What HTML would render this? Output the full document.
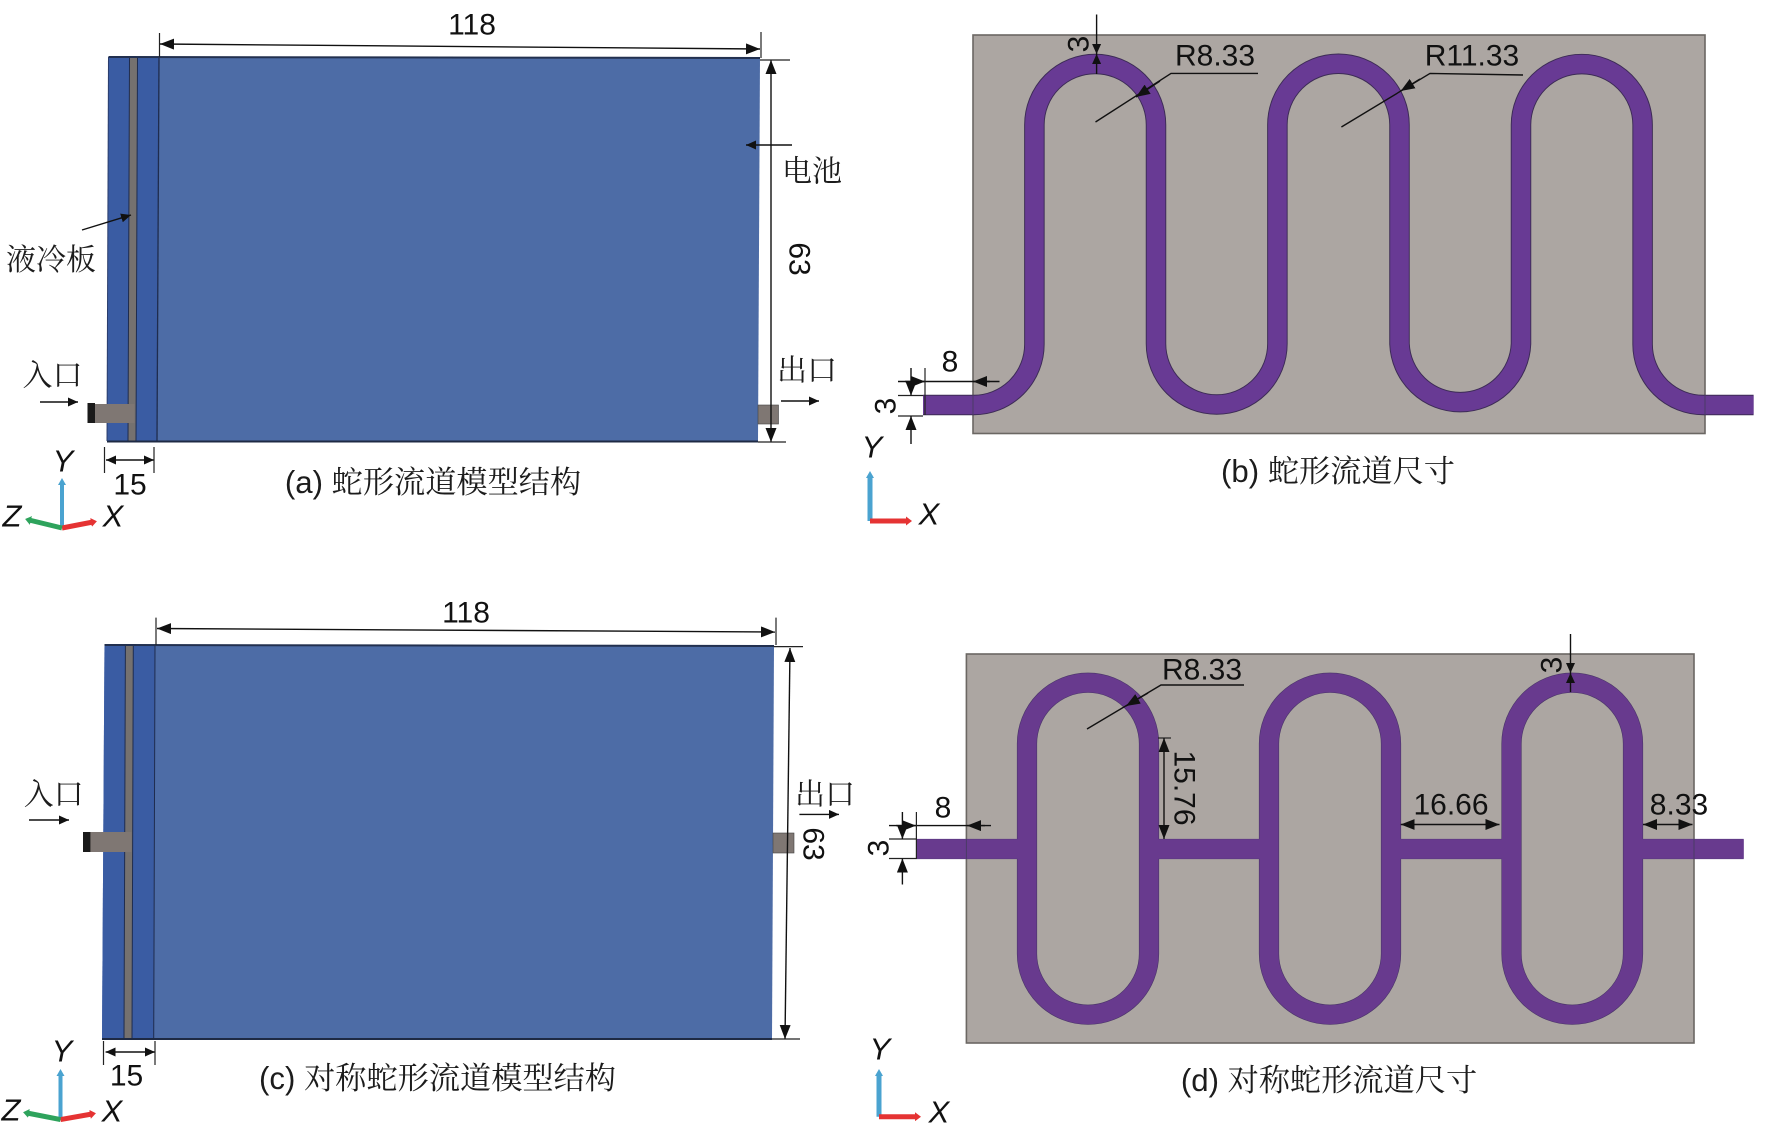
<!DOCTYPE html>
<html lang="zh"><head><meta charset="utf-8"><title>Serpentine channel</title>
<style>
html,body{margin:0;padding:0;background:#fff;width:1772px;height:1135px;overflow:hidden}
svg{display:block}
text{font-family:"Liberation Sans","Noto Serif CJK SC",sans-serif;fill:#111;font-size:30px;text-anchor:middle;dominant-baseline:central}
.cn{font-family:"Liberation Serif","Noto Serif CJK SC",serif;font-size:30px;fill:#1c1c1c}
.cap{font-size:31.2px;fill:#1c1c1c}
.ax{font-style:italic;font-size:31px}
.d{stroke:#111;stroke-width:1.4;fill:none}
.e{stroke:#222;stroke-width:1.2;fill:none}
.ch{fill:none;stroke-linecap:butt;stroke-linejoin:round}
</style></head><body>
<svg xmlns="http://www.w3.org/2000/svg" width="1772" height="1135" viewBox="0 0 1772 1135">
<defs>
<marker id="a" markerUnits="userSpaceOnUse" markerWidth="15" markerHeight="11" refX="14" refY="5.5" orient="auto-start-reverse"><path d="M0 0L14 5.5L0 11Z" fill="#111"/></marker>
<marker id="s" markerUnits="userSpaceOnUse" markerWidth="11" markerHeight="9" refX="10" refY="4.5" orient="auto-start-reverse"><path d="M0 0L10 4.5L0 9Z" fill="#111"/></marker>
<marker id="by" markerUnits="userSpaceOnUse" markerWidth="8" markerHeight="8" refX="3" refY="4" orient="auto"><path d="M0 0L7 4L0 8Z" fill="#4aa3d0"/></marker>
<marker id="rd" markerUnits="userSpaceOnUse" markerWidth="8" markerHeight="9" refX="2" refY="4.5" orient="auto"><path d="M0 0L6 4.5L0 9Z" fill="#e53333"/></marker>
<marker id="gr" markerUnits="userSpaceOnUse" markerWidth="8" markerHeight="9" refX="2" refY="4.5" orient="auto"><path d="M0 0L6 4.5L0 9Z" fill="#2ea35c"/></marker>
</defs>
<rect width="1772" height="1135" fill="#fff"/>

<!-- (a) -->
<polygon points="108.5,57 760,58 758,441 107,441" fill="#4d6ca6"/>
<polygon points="108.5,57 159,57 157,441 107,441" fill="#3a5ca3"/>
<polygon points="129.5,57 137.5,57 136,441 128,441" fill="#75716f"/>
<path d="M129.5 57L128 441M137.5 57L136 441" stroke="#1f2c4e" stroke-width="1"/>
<path d="M159 57L157 441" stroke="#1f2c4e" stroke-width="1.3"/>
<path d="M108.5 57L760 58" stroke="#22304f" stroke-width="2"/>
<path d="M107 441.5H758" stroke="#1e2a44" stroke-width="2"/>
<path d="M108.5 57L107 441" stroke="#2a3c6b" stroke-width="1"/>
<rect x="87.5" y="404" width="47" height="19" fill="#7f7773"/>
<rect x="87.5" y="403" width="7.5" height="20" fill="#1a1a1a"/>
<rect x="758" y="405" width="20.5" height="19" fill="#7f7773" stroke="#444" stroke-width=".6"/>

<path class="d" d="M160 44L760 49" marker-start="url(#a)" marker-end="url(#a)"/>
<path class="e" d="M159.5 33V57M761 32V58"/>
<text x="472" y="25">118</text>
<path class="d" d="M771 60V442" marker-start="url(#a)" marker-end="url(#a)"/>
<path class="e" d="M760 60H790M758 442H786"/>
<text x="799" y="259" transform="rotate(90 799 259)">63</text>
<path class="d" d="M792 145H746" marker-end="url(#s)"/>
<text class="cn" x="812" y="172">电池</text>
<path class="d" d="M82 230L131 215" marker-end="url(#s)"/>
<text class="cn" x="51" y="260.5">液冷板</text>
<text class="cn" x="52.5" y="376">入口</text>
<path class="d" d="M40 402H78" marker-end="url(#s)"/>
<text class="cn" x="807" y="371">出口</text>
<path class="d" d="M781 401H819" marker-end="url(#s)"/>
<path class="d" d="M106 460H154" marker-start="url(#s)" marker-end="url(#s)"/>
<path class="e" d="M104.5 447V473M154 447V473"/>
<text x="130" y="485">15</text>
<text class="cap" x="433" y="482.5">(a) 蛇形流道模型结构</text>
<path d="M62 528V482" stroke="#4aa3d0" stroke-width="4" marker-end="url(#by)"/>
<path d="M62 528L93 522" stroke="#e53333" stroke-width="5" marker-end="url(#rd)"/>
<path d="M62 528L29 520" stroke="#2ea35c" stroke-width="5" marker-end="url(#gr)"/>
<text class="ax" x="63" y="461">Y</text>
<text class="ax" x="12" y="516">Z</text>
<text class="ax" x="113" y="516">X</text>

<!-- (b) -->
<rect x="973" y="35" width="732" height="398.5" fill="#aca6a2" stroke="#6b6763" stroke-width="1.6"/>
<path class="ch" stroke="#3c2b55" stroke-width="20.5" d="M923 405H973.6A60.8 60.8 0 0 0 1034.4 344.2V124.8A60.8 60.8 0 0 1 1156 124.8V343.8A60.7 60.7 0 0 0 1277.4 343.8V124.8A61 61 0 0 1 1399.5 124.8V343.8A60.8 60.8 0 0 0 1521 343.8V124.8A60.8 60.8 0 0 1 1642.6 124.8V344.2A60.8 60.8 0 0 0 1703.4 405H1753.6"/>
<path class="ch" stroke="#683a94" stroke-width="18.6" d="M923 405H973.6A60.8 60.8 0 0 0 1034.4 344.2V124.8A60.8 60.8 0 0 1 1156 124.8V343.8A60.7 60.7 0 0 0 1277.4 343.8V124.8A61 61 0 0 1 1399.5 124.8V343.8A60.8 60.8 0 0 0 1521 343.8V124.8A60.8 60.8 0 0 1 1642.6 124.8V344.2A60.8 60.8 0 0 0 1703.4 405H1753.6"/>
<path d="M973 395V415M1705 395V415" stroke="#4a3a66" stroke-width="1"/>

<path class="d" d="M1096.6 14.5V54" marker-end="url(#s)"/>
<path class="d" d="M1096.6 74V54" marker-end="url(#s)"/>
<text x="1079" y="44" transform="rotate(-90 1079 44)">3</text>
<text x="1215" y="56">R8.33</text>
<path class="d" d="M1258 73.4H1171L1095.5 122"/>
<path class="d" d="M1160 81L1136 97" marker-end="url(#a)"/>
<text x="1472" y="56">R11.33</text>
<path class="d" d="M1523 75L1430 73.4L1341.4 127"/>
<path class="d" d="M1420 79L1400.7 91" marker-end="url(#a)"/>
<text x="950" y="362">8</text>
<path class="d" d="M898 381.5H999.5"/>
<path class="d" d="M905 381.5H925" marker-end="url(#a)"/>
<path class="d" d="M990 381.5H973" marker-end="url(#a)"/>
<path class="e" d="M925 368V415M898 395.5H923M898 416H923"/>
<path class="d" d="M911 368V395.5" marker-end="url(#a)"/>
<path class="d" d="M911 444V416" marker-end="url(#a)"/>
<text x="886" y="406" transform="rotate(-90 886 406)">3</text>
<path d="M870 521V475" stroke="#4aa3d0" stroke-width="5" marker-end="url(#by)"/>
<path d="M870 521H908" stroke="#e53333" stroke-width="5" marker-end="url(#rd)"/>
<text class="ax" x="872" y="447">Y</text>
<text class="ax" x="929" y="514">X</text>
<text class="cap" x="1338" y="471.5">(b) 蛇形流道尺寸</text>

<!-- (c) -->
<polygon points="104.5,645 774,646 772,1039 102,1038" fill="#4d6ca6"/>
<polygon points="104.5,645 155,645 153.7,1039 102,1038" fill="#3a5ca3"/>
<polygon points="125.4,645 133.3,645 132,1039 124,1039" fill="#75716f"/>
<path d="M125.4 645L124 1039M133.3 645L132 1039M155 645L153.7 1039" stroke="#1f2c4e" stroke-width="1"/>
<path d="M104.5 645L774 646" stroke="#22304f" stroke-width="2"/>
<path d="M102 1039H772" stroke="#1e2a44" stroke-width="2"/>
<rect x="83" y="832" width="48.6" height="20" fill="#7f7773"/>
<rect x="83" y="832" width="7.4" height="20" fill="#1a1a1a"/>
<rect x="773" y="833" width="21" height="20" fill="#7f7773" stroke="#444" stroke-width=".6"/>

<path class="d" d="M157 628.5L775 632" marker-start="url(#a)" marker-end="url(#a)"/>
<path class="e" d="M156 617.6V645M776 617.6V645"/>
<text x="466" y="613">118</text>
<path class="d" d="M790 648L785 1039" marker-start="url(#a)" marker-end="url(#a)"/>
<path class="e" d="M774 646.6H803M772 1039H800"/>
<text x="813" y="844" transform="rotate(90 813 844)">63</text>
<text class="cn" x="53.7" y="795">入口</text>
<path class="d" d="M29 820H69" marker-end="url(#s)"/>
<text class="cn" x="825" y="795">出口</text>
<path class="d" d="M799.4 814.4H839" marker-end="url(#s)"/>
<path class="d" d="M105.6 1052H155" marker-start="url(#s)" marker-end="url(#s)"/>
<path class="e" d="M103.5 1041V1065M155 1041V1065"/>
<text x="126.5" y="1076">15</text>
<text class="cap" x="437.5" y="1078.5">(c) 对称蛇形流道模型结构</text>
<path d="M60.5 1119.6V1073" stroke="#4aa3d0" stroke-width="4" marker-end="url(#by)"/>
<path d="M60.5 1119.6L92 1114" stroke="#e53333" stroke-width="5" marker-end="url(#rd)"/>
<path d="M60.5 1119.6L27 1113" stroke="#2ea35c" stroke-width="5" marker-end="url(#gr)"/>
<text class="ax" x="62" y="1051">Y</text>
<text class="ax" x="11" y="1110">Z</text>
<text class="ax" x="112" y="1111">X</text>

<!-- (d) -->
<rect x="966.4" y="654" width="727.6" height="389" fill="#aca6a2" stroke="#6b6763" stroke-width="1.6"/>
<g class="ch" stroke="#4a3568" stroke-width="20.2">
<rect x="1027" y="682.7" width="122" height="332" rx="61" ry="61" fill="none"/>
<rect x="1269" y="682.7" width="122" height="332" rx="61" ry="61" fill="none"/>
<rect x="1511.5" y="682.7" width="121.5" height="332" rx="60.7" ry="61" fill="none"/>
<path stroke="#5a3b80" d="M917 849H1027M1149 849H1269M1391 849H1511.5M1633 849H1743.7"/>
</g>
<g class="ch" stroke="#683a8e" stroke-width="19">
<rect x="1027" y="682.7" width="122" height="332" rx="61" ry="61" fill="none"/>
<rect x="1269" y="682.7" width="122" height="332" rx="61" ry="61" fill="none"/>
<rect x="1511.5" y="682.7" width="121.5" height="332" rx="60.7" ry="61" fill="none"/>
<path d="M917 849H1027M1149 849H1269M1391 849H1511.5M1633 849H1743.7"/>
</g>
<path d="M966.4 839V859M1694 839V859" stroke="#4a3a66" stroke-width="1"/>

<text x="1202" y="670">R8.33</text>
<path class="d" d="M1244 685H1161L1087 729"/>
<path class="d" d="M1148 693L1126 706" marker-end="url(#a)"/>
<path class="e" d="M1158 738H1171"/>
<path class="d" d="M1164 738V839" marker-start="url(#a)" marker-end="url(#a)"/>
<text x="1184" y="788" transform="rotate(90 1184 788)">15.76</text>
<text x="1451" y="805">16.66</text>
<path class="d" d="M1400.7 824.5H1499.5" marker-start="url(#a)" marker-end="url(#a)"/>
<text x="1679" y="805">8.33</text>
<path class="d" d="M1643 824.5H1692.5" marker-start="url(#a)" marker-end="url(#a)"/>
<text x="943" y="808">8</text>
<path class="d" d="M889 825.6H991"/>
<path class="d" d="M896 825.6H916" marker-end="url(#a)"/>
<path class="d" d="M985 825.6H967" marker-end="url(#a)"/>
<path class="e" d="M916.4 812V858.5M889 839H917M889 858.5H917"/>
<path class="d" d="M902.4 812V839" marker-end="url(#a)"/>
<path class="d" d="M902.4 884.5V858.5" marker-end="url(#a)"/>
<text x="879" y="848" transform="rotate(-90 879 848)">3</text>
<path class="d" d="M1570.5 634V673" marker-end="url(#s)"/>
<path class="d" d="M1570.5 692V673" marker-end="url(#s)"/>
<text x="1552" y="665" transform="rotate(-90 1552 665)">3</text>
<path d="M879 1116.7V1073" stroke="#4aa3d0" stroke-width="5" marker-end="url(#by)"/>
<path d="M879 1116.7H917" stroke="#e53333" stroke-width="5" marker-end="url(#rd)"/>
<text class="ax" x="880" y="1049">Y</text>
<text class="ax" x="939" y="1112">X</text>
<text class="cap" x="1329" y="1080.5">(d) 对称蛇形流道尺寸</text>
</svg>
</body></html>
